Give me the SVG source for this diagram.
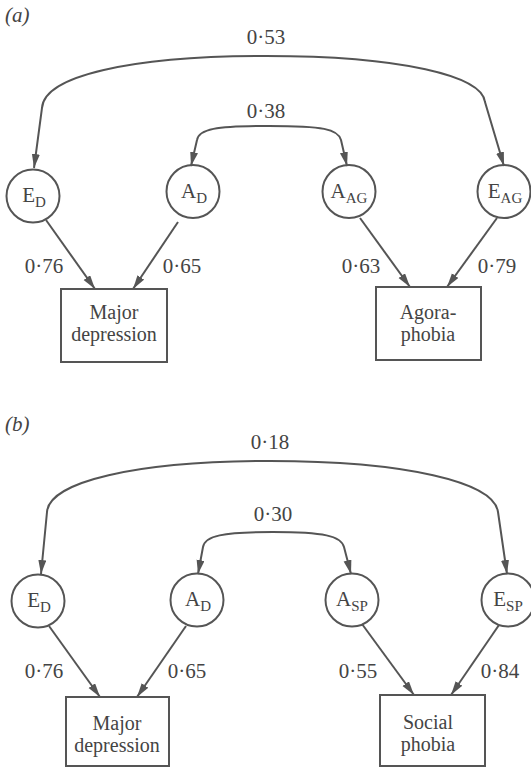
<svg xmlns="http://www.w3.org/2000/svg" width="531" height="767" viewBox="0 0 531 767">
<style>
text{font-family:"Liberation Serif","Tinos","DejaVu Serif","Times New Roman",serif;fill:#444;font-size:21px}
.m{text-anchor:middle}
.bx{font-size:20px}
.sub{font-size:15px}
.node{fill:none;stroke:#555;stroke-width:2}
.edge{fill:none;stroke:#555;stroke-width:2;marker-end:url(#ah)}
.arc{fill:none;stroke:#555;stroke-width:2;marker-end:url(#ah);marker-start:url(#ah)}
</style>
<defs>
<marker id="ah" markerUnits="userSpaceOnUse" markerWidth="16" markerHeight="10" refX="14" refY="4" orient="auto-start-reverse">
<path d="M0,0 L14,4 L0,8 Z" fill="#555"/>
</marker>
</defs>
<rect width="531" height="767" fill="#fff"/>
<text x="5" y="22" font-style="italic">(a)</text>
<text x="5" y="431" font-style="italic">(b)</text>

<g id="connectors">
<path class="arc" d="M34,168 L42,108 C44,76 130,56 266,56 C402,56 482,76 485,102 L504,166"/>
<path class="arc" d="M191,166 L197,140 C199,129 215,126 269,126 C323,126 338,129 341,140 L347,166"/>
<path class="edge" d="M46,220 L95,289"/>
<path class="edge" d="M178,222 L133,289"/>
<path class="edge" d="M360,218 L410,287"/>
<path class="edge" d="M497,218 L447,287"/>
<path class="arc" d="M41,574 L47,512 C49,482 135,461 270,461 C405,461 494,482 498,512 L507,574"/>
<path class="arc" d="M198,574 L203,547 C205,536 222,532 273,532 C324,532 341,536 344,547 L351,574"/>
<path class="edge" d="M49,626 L100,697"/>
<path class="edge" d="M186,626 L137,697"/>
<path class="edge" d="M362,624 L414,695"/>
<path class="edge" d="M499,625 L451,695"/>
</g>
<g id="labels">
<text class="m" x="266" y="44">0·53</text>
<text class="m" x="266" y="118">0·38</text>
<text class="m" x="44" y="273">0·76</text>
<text class="m" x="182" y="273">0·65</text>
<text class="m" x="361" y="273">0·63</text>
<text class="m" x="497" y="273">0·79</text>
<text class="m" x="270" y="449">0·18</text>
<text class="m" x="273" y="521">0·30</text>
<text class="m" x="44" y="678">0·76</text>
<text class="m" x="187" y="678">0·65</text>
<text class="m" x="358" y="678">0·55</text>
<text class="m" x="500" y="678">0·84</text>
</g>

<g id="a_ED"><circle class="node" cx="33" cy="196" r="26.5"/><text class="m" x="34" y="202">E<tspan class="sub" dy="5">D</tspan></text></g>
<g id="a_AD"><circle class="node" cx="193" cy="191.5" r="26.5"/><text class="m" x="194" y="198">A<tspan class="sub" dy="5">D</tspan></text></g>
<g id="a_AAG"><circle class="node" cx="349" cy="191.5" r="26.5"/><text class="m" x="349" y="198">A<tspan class="sub" dy="5">AG</tspan></text></g>
<g id="a_EAG"><circle class="node" cx="504" cy="191.5" r="26.5"/><text class="m" x="505" y="198">E<tspan class="sub" dy="5">AG</tspan></text></g>
<g id="a_MD"><rect class="node" x="61" y="289" width="106" height="73"/><text class="m bx" x="114" y="319">Major</text><text class="m bx" x="114" y="341">depression</text></g>
<g id="a_AG"><rect class="node" x="376" y="287" width="105" height="73"/><text class="m bx" x="428" y="319">Agora-</text><text class="m bx" x="428" y="341">phobia</text></g>

<g id="b_ED"><circle class="node" cx="38" cy="601" r="26.5"/><text class="m" x="39" y="607">E<tspan class="sub" dy="5">D</tspan></text></g>
<g id="b_AD"><circle class="node" cx="197" cy="600" r="26.5"/><text class="m" x="198" y="606">A<tspan class="sub" dy="5">D</tspan></text></g>
<g id="b_ASP"><circle class="node" cx="352" cy="600" r="26.5"/><text class="m" x="352" y="606">A<tspan class="sub" dy="5">SP</tspan></text></g>
<g id="b_ESP"><circle class="node" cx="508" cy="600" r="26.5"/><text class="m" x="508" y="606">E<tspan class="sub" dy="5">SP</tspan></text></g>
<g id="b_MD"><rect class="node" x="66" y="697" width="103" height="69"/><text class="m bx" x="117" y="730">Major</text><text class="m bx" x="117" y="752">depression</text></g>
<g id="b_SP"><rect class="node" x="380" y="695" width="105" height="71"/><text class="m bx" x="428" y="729">Social</text><text class="m bx" x="428" y="751">phobia</text></g>
</svg>
